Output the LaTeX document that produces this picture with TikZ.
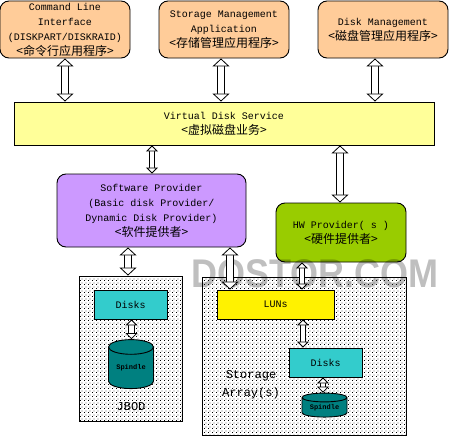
\documentclass[tikz,border=0pt]{standalone}
\usepackage{fontspec}
\setmonofont{Liberation Mono}
\newfontfamily\cjk{Noto Sans CJK SC}
\usepackage{tikz}
\usetikzlibrary{shapes,arrows.meta,patterns,calc}
\usepackage{xcolor}
\definecolor{appfill}{HTML}{FFCC99}
\definecolor{vdsfill}{HTML}{FFFF99}
\definecolor{swfill}{HTML}{CC99FF}
\definecolor{hwfill}{HTML}{99CC00}
\definecolor{diskfill}{HTML}{33CCCC}
\definecolor{spinfill}{HTML}{008080}
\newcommand{\cn}[1]{{\cjk\fontsize{12}{15}\selectfont #1}}
\pgfdeclarepatternformonly{sparsedots}{\pgfpointorigin}{\pgfqpoint{4pt}{4pt}}{\pgfqpoint{4pt}{4pt}}{
    \pgfpathrectangle{\pgfqpoint{0pt}{0pt}}{\pgfqpoint{1pt}{1pt}}
    \pgfpathrectangle{\pgfqpoint{2pt}{2pt}}{\pgfqpoint{1pt}{1pt}}
    \pgfusepath{fill}
}
\tikzset{
    lbl/.style={font=\ttfamily\fontsize{10}{15}\selectfont, align=center, inner sep=0pt},
    biglbl/.style={lbl, font=\ttfamily\fontsize{12}{18}\selectfont},
    box/.style={draw=black, line width=0.9pt, lbl},
    appbox/.style={box, fill=appfill, rounded corners=9pt},
    dotbox/.style={draw=black, line width=0.9pt, fill=white, postaction={pattern=sparsedots}, inner sep=0pt},
    spindle/.style={cylinder, shape border rotate=90, draw=black, line width=0.9pt, fill=spinfill,
        minimum width=#1, inner sep=0pt, font=\ttfamily\bfseries\fontsize{7}{8}\selectfont},
    link/.style={double=white, double distance=6.5pt, line width=0.8pt,
        {Triangle[fill=white, length=8pt, width=17pt, line width=0.8pt]}-{Triangle[fill=white, length=8pt, width=17pt, line width=0.8pt]}},
    smalllink/.style={double=white, double distance=4.5pt, line width=0.8pt,
        {Triangle[fill=white, length=6pt, width=12pt, line width=0.8pt]}-{Triangle[fill=white, length=6pt, width=12pt, line width=0.8pt]}},
}
\begin{document}
\begin{tikzpicture}[x=1pt, y=-1pt]
    \useasboundingbox (0,0) rectangle (449,436);
    \fill[white] (0,0) rectangle (449,436);
    % top row
    \node[appbox, minimum width=130pt, minimum height=57pt] (cli) at (65,29.5)
        {Command Line\\Interface\\(DISKPART/DISKRAID)\\\cn{<命令行应用程序>}};
    \node[appbox, minimum width=130pt, minimum height=57pt] (sma) at (224,29.5)
        {Storage Management\\Application\\\cn{<存储管理应用程序>}};
    \node[appbox, minimum width=130pt, minimum height=57pt] (dm) at (383,29.5)
        {Disk Management\\\cn{<磁盘管理应用程序>}};
    \node[box, fill=vdsfill, minimum width=420pt, minimum height=43pt] (vds) at (224,123.5)
        {Virtual Disk Service\\\cn{<虚拟磁盘业务>}};
    % providers
    \node[appbox, fill=swfill, minimum width=189pt, minimum height=73pt] (sw) at (151.5,210.5)
        {Software Provider\\(Basic disk Provider/\\Dynamic Disk Provider)\\\cn{<软件提供者>}};
    \node[appbox, fill=hwfill, minimum width=130pt, minimum height=59pt] (hw) at (341,232.5)
        {HW Provider( s )\\\cn{<硬件提供者>}};
    % enclosures
    \node[dotbox, minimum width=103pt, minimum height=145pt] (jbod) at (130.5,348.5) {};
    \node[dotbox, minimum width=204pt, minimum height=158pt] (array) at (304,356) {};
    \node[biglbl] (jbodlbl) at (131,407) {JBOD};
    \node[biglbl] (arraylbl) at (251,384.5) {Storage\\Array(s)};
    % watermark
    \node[inner sep=0pt, xscale=0.9, text=black, text opacity=0.25, font=\fontspec{Liberation Sans}\bfseries\fontsize{40}{40}\selectfont] (mark) at (315,274) {DOSTOR.COM};
    % disks
    \node[box, fill=diskfill, minimum width=73pt, minimum height=29pt] (disk1) at (130.5,304.5) {Disks};
    \node[box, fill=yellow, minimum width=117pt, minimum height=29pt] (lun) at (275.5,304.5) {LUNs};
    \node[box, fill=diskfill, minimum width=73pt, minimum height=29pt] (disk2) at (325.5,362.5) {Disks};
    \node[spindle=45pt, minimum height=49pt, aspect=0.5] (spin1) at (131,368) {Spindle};
    \node[spindle=45pt, minimum height=24pt, aspect=0.3] (spin2) at (324.5,407.5) {Spindle};
    % links
    \foreach \a/\b/\xx in {cli/vds/65, sma/vds/221, dm/vds/375, vds/hw/340, sw/jbod/128, sw/lun/230} {
        \draw[link] (\a.south -| \xx,0) -- (\b.north -| \xx,0);
    }
    \foreach \a/\b/\xx in {vds/sw/152, hw/lun/302, lun/disk2/303, disk1/spin1/131.5, disk2/spin2/323} {
        \draw[smalllink] (\a.south -| \xx,0) -- (\b.north -| \xx,0);
    }
\end{tikzpicture}
\end{document}
